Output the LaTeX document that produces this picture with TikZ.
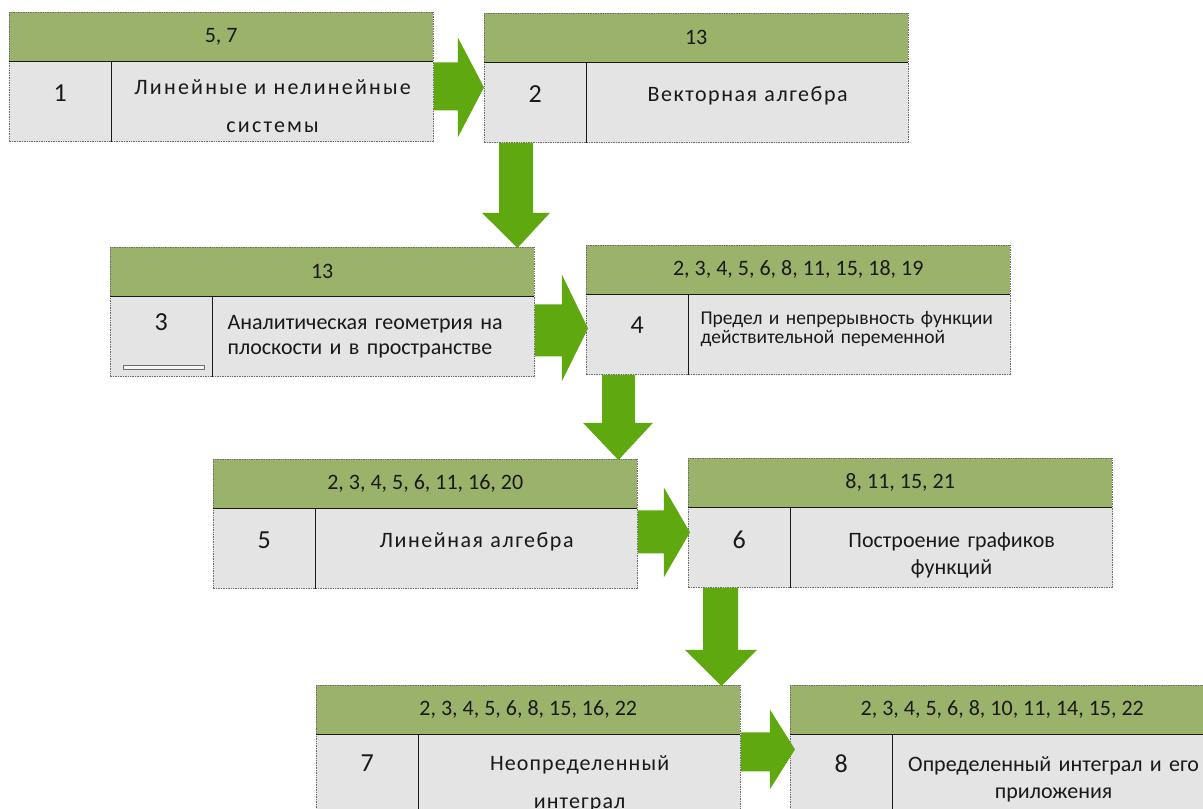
\documentclass[tikz,border=0pt]{standalone}
\usepackage{fontspec}
\setmainfont{Carlito}
\newfontfamily\lsA[LetterSpace=10]{Carlito}
\newfontfamily\lsB[LetterSpace=7]{Carlito}
\newfontfamily\lsC[LetterSpace=5]{Carlito}
\usetikzlibrary{calc}
\definecolor{hdrgreen}{RGB}{155,178,106}
\definecolor{bodygray}{RGB}{228,228,228}
\definecolor{arrgreen}{RGB}{95,168,15}
\definecolor{edgegray}{RGB}{110,110,110}
\definecolor{ink}{RGB}{25,25,25}
\tikzset{
  hdr/.style={fill=hdrgreen, minimum width=424pt, minimum height=49pt, inner sep=0pt,
    anchor=north west, font=\fontsize{22}{26}\selectfont, text=ink},
  numcell/.style={fill=bodygray, minimum width=102pt, minimum height=80pt, inner sep=0pt, anchor=north west},
  txtcell/.style={fill=bodygray, minimum width=322pt, minimum height=80pt, inner sep=0pt, anchor=north west},
  numtxt/.style={font=\fontsize{26}{30}\selectfont, text=ink, anchor=base, inner sep=0pt},
  bodytxt/.style={text=ink, anchor=base, text width=310pt, align=center, inner sep=0pt},
  lefttxt/.style={text=ink, anchor=base west, text width=300pt, align=left, inner sep=0pt},
  outline/.style={edgegray, densely dotted, line width=0.7pt},
  divline/.style={ink, line width=1.3pt},
  blockarrow/.style={fill=arrgreen},
}
% #1 id, #2 x, #3 y, #4 number, #5 header, #6 number baseline offset
\newcommand\coursebox[6]{%
  \node[hdr] (h#1) at (#2,#3) {#5};
  \node[numcell] (c#1) at (h#1.south west) {};
  \node[txtcell] (t#1) at (c#1.north east) {};
  \draw[outline] (h#1.north west) rectangle (t#1.south east);
  \draw[divline] (h#1.south west) -- (h#1.south east) (c#1.north east) -- (c#1.south east);
  \node[numtxt] (n#1) at ($(c#1.north)+(0,#6)$) {#4};
}
% right block arrow: #1 from (north east), #2 to (north west), #3 #4 shaft y, #5 head x, #6 #7 head y, #8 tip offset
\newcommand\rarrow[8]{%
  \fill[blockarrow] ($(#1.north east)+(0,#3)$) -- ($(#1.north east)+(#5,#3)$) -- ($(#1.north east)+(#5,#6)$)
    -- ($(#2.north west)+(#8)$) -- ($(#1.north east)+(#5,#7)$) -- ($(#1.north east)+(#5,#4)$)
    -- ($(#1.north east)+(0,#4)$) -- cycle;
}
% down block arrow: #1 from (south west), #2 to (north east), #3 #4 shaft x, #5 head y, #6 #7 head x, #8 tip offset
\newcommand\darrow[8]{%
  \fill[blockarrow] ($(#1.south west)+(#3,0)$) -- ($(#1.south west)+(#3,#5)$) -- ($(#1.south west)+(#6,#5)$)
    -- ($(#2.north east)+(#8)$) -- ($(#1.south west)+(#7,#5)$) -- ($(#1.south west)+(#4,#5)$)
    -- ($(#1.south west)+(#4,0)$) -- cycle;
}
\begin{document}
\begin{tikzpicture}[x=1pt,y=-1pt]
\useasboundingbox (0,0) rectangle (1203,809);
\clip (0,0) rectangle (1203,809);
\fill[white] (0,0) rectangle (1203,809);

\coursebox{1}{9}{12}{1}{5, 7}{40}
\coursebox{2}{484}{13}{2}{13}{40}
\coursebox{3}{110}{247}{3}{13}{34}
\coursebox{4}{586}{245}{4}{2, 3, 4, 5, 6, 8, 11, 15, 18, 19}{39}
\coursebox{5}{213}{459}{5}{2, 3, 4, 5, 6, 11, 16, 20}{40}
\coursebox{6}{688}{458}{6}{8, 11, 15, 21}{41}
\coursebox{7}{316}{685}{7}{2, 3, 4, 5, 6, 8, 15, 16, 22}{37}
\coursebox{8}{790}{685}{8}{2, 3, 4, 5, 6, 8, 10, 11, 14, 15, 22}{38}

\draw[edgegray, line width=0.6pt, fill=white!92!gray] ($(c3.south west)+(13,-12)$) rectangle ($(c3.south west)+(94,-8)$);

\node[bodytxt, font=\lsA\fontsize{22}{38}\selectfont] (x1) at ($(t1.north)+(0,33)$) {Линейные и нелинейные\\системы};
\node[bodytxt, font=\lsB\fontsize{22}{30}\selectfont] (x2) at ($(t2.north)+(0,39)$) {Векторная алгебра};
\node[lefttxt, font=\fontsize{22}{25}\selectfont] (x3) at ($(t3.north west)+(15,33)$) {Аналитическая геометрия на\\плоскости и в пространстве};
\node[lefttxt, font=\fontsize{19.5}{19.5}\selectfont] (x4) at ($(t4.north west)+(12,30)$) {Предел и непрерывность функции\\действительной переменной};
\node[bodytxt, font=\lsB\fontsize{22}{30}\selectfont] (x5) at ($(t5.north)+(0,39)$) {Линейная алгебра};
\node[bodytxt, font=\fontsize{22}{27}\selectfont] (x6) at ($(t6.north)+(0,40)$) {Построение графиков\\функций};
\node[bodytxt, font=\lsC\fontsize{22}{38}\selectfont] (x7) at ($(t7.north)+(0,36)$) {Неопределенный\\интеграл};
\node[bodytxt, font=\fontsize{22}{27}\selectfont] (x8) at ($(t8.north)+(0,37)$) {Определенный интеграл и его\\приложения};

\rarrow{t1}{c2}{1}{49}{24}{-24}{76}{0,25}
\darrow{c2}{h3}{15}{49}{70}{-2}{66}{-17,1}
\rarrow{t3}{c4}{8}{60}{27}{-22}{85}{2,34}
\darrow{c4}{h5}{16}{49}{48}{-3}{67}{-19,1}
\rarrow{t5}{c6}{2}{45}{26}{-21}{69}{2,25}
\darrow{c6}{h7}{15}{50}{62}{-3}{69}{-19,1}
\rarrow{t7}{c8}{-2}{37}{29}{-25}{55}{5,15}
\end{tikzpicture}
\end{document}
